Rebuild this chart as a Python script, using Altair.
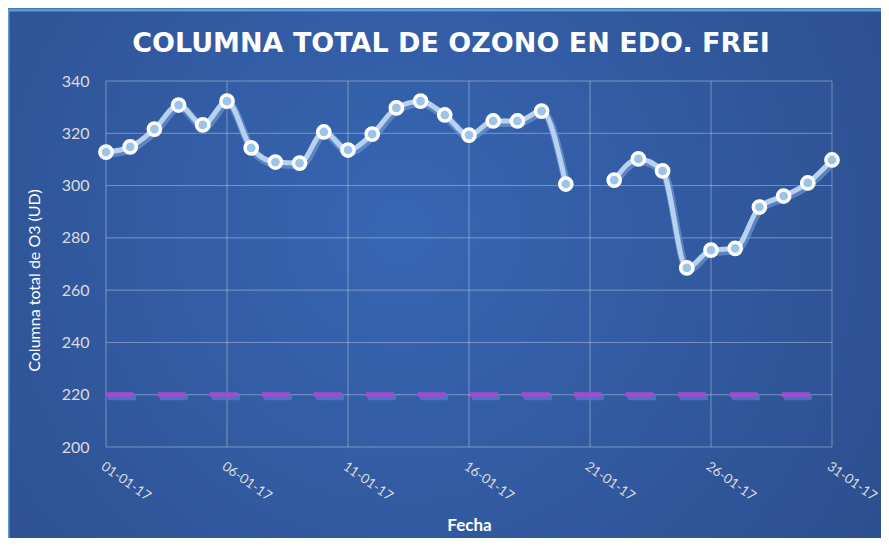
import altair as alt
import pandas as pd

title_text = "COLUMNA  TOTAL  DE  OZONO  EN  EDO.  FREI"
days = list(range(1, 32))
ozone = [312.8, 314.8, 321.6, 330.8, 323.2, 332.3, 314.4, 309.0, 308.6, 320.5,
         313.6, 319.7, 329.7, 332.3, 327.0, 319.3, 324.7, 324.7, 328.5, 300.6,
         None, 302.1, 310.2, 305.6, 268.5, 275.3, 276.0, 291.8, 296.0, 301.0, 309.8]
ref_days = [1, 31]
ref_value = [220, 220]
x_ticks = [1, 6, 11, 16, 21, 26, 31]
y_ticks = [200, 220, 240, 260, 280, 300, 320, 340]

df = pd.DataFrame({"day": days, "ozone": ozone})
ref = pd.DataFrame({"day": ref_days, "v": ref_value})
xg = pd.DataFrame({"day": x_ticks})
yg = pd.DataFrame({"v": y_ticks})

FONT = "Lato"
W, H = 726, 366
PL, PT, PR, PB = 98, 73, 49, 91

xs = alt.Scale(domain=[1, 31], nice=False, zero=False)
ys = alt.Scale(domain=[200, 340], nice=False, zero=False)

bg = alt.Chart(alt.Data(values=[{}])).mark_rect(
    fill={"gradient": "radial", "x1": 0.45, "y1": 0.45, "r1": 0.0,
          "x2": 0.45, "y2": 0.45, "r2": 0.75,
          "stops": [{"offset": 0, "color": "#3766b3"},
                    {"offset": 1, "color": "#2b4b89"}]},
    stroke="#5b9bd5", strokeWidth=3,
).encode(
    x=alt.value(-PL), x2=alt.value(W + PR + 3),
    y=alt.value(-PT + 2), y2=alt.value(H + PB + 3),
)

title = alt.Chart(alt.Data(values=[{"t": title_text}])).mark_text(
    font="DejaVu Sans", fontSize=27, fontWeight="bold", color="#ffffff",
    align="center", baseline="middle",
).encode(text="t:N", x=alt.value(345), y=alt.value(-37))

grid_v = alt.Chart(xg).mark_rule(color="#ffffff", opacity=0.35, strokeWidth=1).encode(
    x=alt.X("day:Q", scale=xs), y=alt.value(0), y2=alt.value(H))
grid_h = alt.Chart(yg).mark_rule(color="#ffffff", opacity=0.35, strokeWidth=1).encode(
    y=alt.Y("v:Q", scale=ys), x=alt.value(0), x2=alt.value(W))

axis_x = alt.Axis(values=x_ticks, labelExpr="(datum.value < 10 ? '0' : '') + datum.value + '-01-17'",
                  labelAngle=35, labelAlign="left", labelBaseline="top",
                  labelPadding=12, zindex=1, labelBound=False, labelOverlap=False,
                  labelColor="#dcdcdc", labelFontSize=13.5, labelFont=FONT,
                  grid=False, ticks=False, domain=False,
                  title="Fecha", titleColor="#ffffff", titleFont=FONT, titleFontSize=17,
                  titleFontWeight="bold", titleBaseline="middle", titleY=78)
axis_y = alt.Axis(values=y_ticks, labelColor="#dcdcdc", labelFontSize=16, labelFont=FONT,
                  labelPadding=17, grid=False, ticks=False, domain=False, zindex=1,
                  title="Columna total de O3 (UD)", titleColor="#ffffff", titleFont=FONT,
                  titleFontSize=16, titleFontWeight="normal", titleX=-72, titleY=199,
                  titleBaseline="middle")

base = alt.Chart(df)

ref_shadow = alt.Chart(ref).mark_line(color="#4a7cc4", strokeWidth=5, strokeDash=[28, 24],
                                      yOffset=3, xOffset=2, opacity=0.8).encode(
    x=alt.X("day:Q", scale=xs), y=alt.Y("v:Q", scale=ys))
ref_line = alt.Chart(ref).mark_line(color="#9b4fd0", strokeWidth=5, strokeDash=[28, 24]).encode(
    x=alt.X("day:Q", scale=xs, axis=axis_x), y=alt.Y("v:Q", scale=ys, axis=axis_y))

shadow = base.mark_line(color="#7fa6da", strokeWidth=8, opacity=0.55, interpolate="monotone",
                        yOffset=2, xOffset=1).encode(
    x=alt.X("day:Q", scale=xs), y=alt.Y("ozone:Q", scale=ys))
line = base.mark_line(color="#b7d2f0", strokeWidth=5, interpolate="monotone").encode(
    x=alt.X("day:Q", scale=xs), y=alt.Y("ozone:Q", scale=ys))
pts = base.mark_point(filled=True, shape="circle", size=150, fill="#9dc3e6",
                      stroke="#ffffff", strokeWidth=3.5, opacity=1).encode(
    x=alt.X("day:Q", scale=xs), y=alt.Y("ozone:Q", scale=ys))

chart = alt.layer(bg, grid_v, grid_h, ref_shadow, ref_line, shadow, line, pts, title).properties(
    width=W, height=H,
    padding={"left": PL, "top": PT, "right": PR, "bottom": PB},
    autosize=alt.AutoSizeParams(type="none"),
).configure(background="#2e5394").configure_view(stroke=None)

chart.save("out.html", embed_options={"renderer": "svg", "actions": False})
